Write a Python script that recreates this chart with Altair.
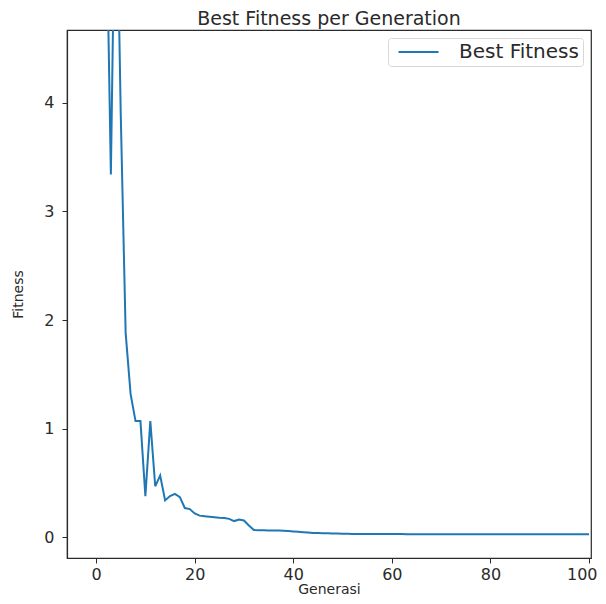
import altair as alt
import pandas as pd

generations = list(range(0, 101))
best_fitness = [
    10.5, 8.2, 6.0, 3.34, 6.5, 3.9, 1.88, 1.32, 1.07, 1.07,
    0.38, 1.07, 0.47, 0.57, 0.34, 0.38, 0.40, 0.37, 0.27, 0.26,
    0.22, 0.20, 0.195, 0.19, 0.185, 0.18, 0.178, 0.17, 0.15, 0.165,
    0.155, 0.11, 0.068, 0.066, 0.065, 0.064, 0.063, 0.062, 0.060, 0.058,
    0.055, 0.052, 0.048, 0.044, 0.040, 0.039, 0.038, 0.037, 0.036, 0.035,
    0.034, 0.033, 0.032, 0.031, 0.031, 0.031, 0.030, 0.030, 0.030, 0.030,
    0.030, 0.030, 0.030, 0.029, 0.029, 0.029, 0.029, 0.029, 0.029, 0.029,
    0.029, 0.029, 0.029, 0.029, 0.029, 0.029, 0.028, 0.028, 0.028, 0.028,
    0.028, 0.028, 0.028, 0.028, 0.028, 0.028, 0.028, 0.028, 0.028, 0.028,
    0.028, 0.028, 0.028, 0.028, 0.028, 0.028, 0.028, 0.028, 0.028, 0.028,
    0.028,
]
series_name = "Best Fitness"
x_ticks = [0, 20, 40, 60, 80, 100]
y_ticks = [0, 1, 2, 3, 4]

df = pd.DataFrame({
    "Generasi": generations,
    "Fitness": best_fitness,
    "series": [series_name] * len(generations),
})

FONT = "DejaVu Sans"
INK = "#2a2a2a"

chart = alt.Chart(df).mark_line(clip=True, strokeWidth=2).encode(
    x=alt.X("Generasi:Q", scale=alt.Scale(domain=[-5.9, 100.4], nice=False, zero=False),
            axis=alt.Axis(values=x_ticks, title="Generasi", grid=False, tickSize=5,
                          labelPadding=3, titlePadding=0, labelFontSize=16,
                          titleFontSize=14, labelFlush=5, labelFlushOffset=8)),
    y=alt.Y("Fitness:Q", scale=alt.Scale(domain=[-0.19, 4.67], nice=False, zero=False),
            axis=alt.Axis(values=y_ticks, title="Fitness", grid=False, tickSize=5,
                          labelPadding=8, titlePadding=18, labelFontSize=16,
                          titleFontSize=14)),
    color=alt.Color("series:N", scale=alt.Scale(range=["#1f77b4"]),
                    legend=alt.Legend(title=None, orient="top-right", offset=8,
                                      symbolType="M-0.41,0H4.3", symbolSize=289,
                                      symbolStrokeWidth=2, labelFontSize=20,
                                      labelFont=FONT, labelColor=INK,
                                      fillColor="white", strokeColor="#d8d8d8",
                                      padding=4, cornerRadius=3, labelOffset=47)),
).properties(
    width=524,
    height=528,
    title=alt.Title("Best Fitness per Generation", fontSize=19, font=FONT,
                    fontWeight="normal", color=INK, offset=1),
    autosize=alt.AutoSizeParams(type="none"),
    padding={"left": 59, "top": 22, "right": 7, "bottom": 38},
).configure_view(
    stroke=INK, strokeWidth=1.2
).configure_axis(
    domainColor=INK, tickColor=INK, labelColor=INK, titleColor=INK,
    labelFont=FONT, titleFont=FONT,
    titleFontWeight="normal", domainWidth=1.2
)

chart.save("out.html", embed_options={"renderer": "svg", "actions": False})
